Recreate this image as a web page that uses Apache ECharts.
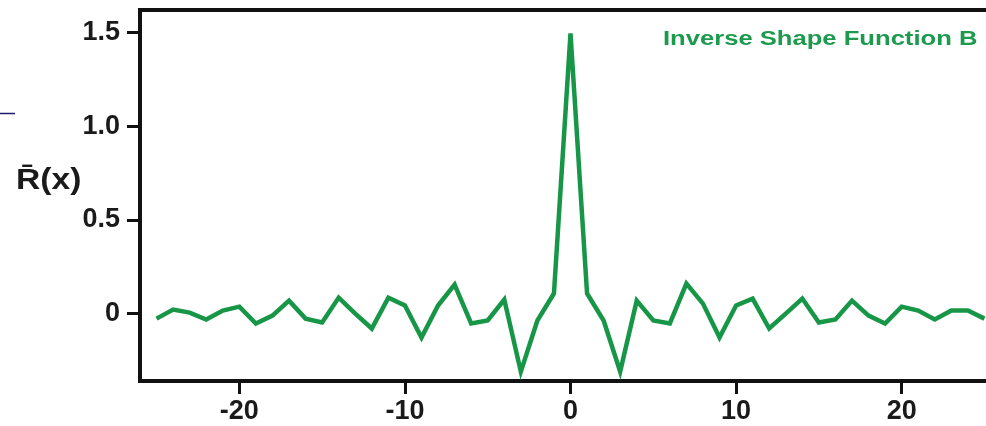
<!DOCTYPE html>
<html>
<head>
<meta charset="utf-8">
<script src="https://cdn.jsdelivr.net/npm/echarts@6/dist/echarts.min.js"></script>
<style>html,body{margin:0;padding:0;background:#fff;overflow:hidden;width:986px;height:426px;}#c{width:1004px;height:426px;}</style>
</head>
<body>
<div id="c"></div>
<script>
// ---- data ----
const xValues = [-25,-24,-23,-22,-21,-20,-19,-18,-17,-16,-15,-14,-13,-12,-11,-10,-9,-8,-7,-6,-5,-4,-3,-2,-1,0,1,2,3,4,5,6,7,8,9,10,11,12,13,14,15,16,17,18,19,20,21,22,23,24,25];
const yValues = [-0.027,0.021,0.005,-0.032,0.016,0.037,-0.053,-0.011,0.069,-0.027,-0.048,0.085,0.0,-0.08,0.085,0.043,-0.128,0.043,0.155,-0.053,-0.037,0.075,-0.31,-0.037,0.107,1.495,0.107,-0.037,-0.31,0.069,-0.037,-0.053,0.16,0.053,-0.128,0.043,0.08,-0.08,0.0,0.08,-0.048,-0.032,0.069,-0.011,-0.053,0.037,0.016,-0.032,0.016,0.016,-0.027];
const xTicks = [-20,-10,0,10,20];
const yTicks = [0,0.5,1.0,1.5];
const yTickLabels = ['0','0.5','1.0','1.5'];
const seriesName = 'Inverse Shape Function B';
const yAxisTitle = 'R\u0304(x)';

const points = xValues.map((x,i)=>[x,yValues[i]]);
const chart = echarts.init(document.getElementById('c'), null, {renderer:'canvas'});
const labelFont = {fontFamily:'Liberation Sans, Arial, sans-serif', fontWeight:'bold', fontSize:27, color:'#1a1a1a'};
chart.setOption({
  animation:false,
  backgroundColor:'#ffffff',
  grid:{left:140, top:10, right:3, bottom:45, show:true, borderColor:'#111', borderWidth:4, containLabel:false},
  xAxis:{type:'value', min:-26, max:26,
    axisLine:{show:true, onZero:false, lineStyle:{color:'#111', width:4}},
    axisTick:{show:true, inside:false, length:13, lineStyle:{color:'#111', width:3}, customValues:xTicks},
    axisLabel:Object.assign({margin:17, customValues:xTicks, formatter:v=>String(v)}, labelFont),
    splitLine:{show:false}},
  yAxis:{type:'value', min:-0.36, max:1.62,
    axisLine:{show:true, onZero:false, lineStyle:{color:'#111', width:4}},
    axisTick:{show:true, inside:false, length:13, lineStyle:{color:'#111', width:3}, customValues:yTicks},
    axisLabel:Object.assign({margin:20, customValues:yTicks, formatter:v=>{const i=yTicks.indexOf(v);return i>=0?yTickLabels[i]:'';}}, labelFont),
    splitLine:{show:false}},
  graphic:[
    {type:'text', left:16, top:166, scaleX:1.12, style:{text:yAxisTitle, font:'bold 30px "Liberation Sans", Arial, sans-serif', fill:'#1a1a1a'}},
    {type:'text', x:663, y:29, scaleX:1.28, style:{text:seriesName, font:'bold 20px "Liberation Sans", Arial, sans-serif', fill:'#1d9a4e', textAlign:'left', textVerticalAlign:'top'}},
    {type:'line', shape:{x1:0,y1:113.5,x2:15,y2:113.5}, style:{stroke:'#1c1c6e', lineWidth:1.5}}
  ],
  series:[{type:'line', name:seriesName, data:points, symbol:'none', lineStyle:{color:'#179647', width:4.5, join:'miter'}, clip:true}]
});
</script>
</body>
</html>
